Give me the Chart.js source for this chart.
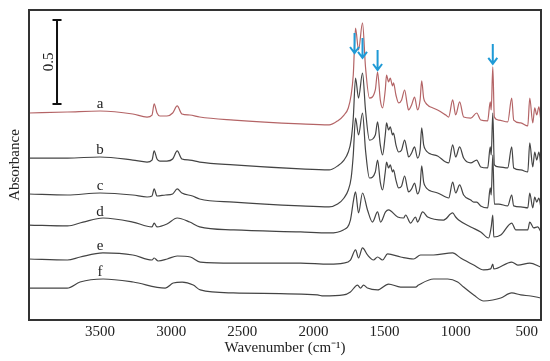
<!DOCTYPE html>
<html><head><meta charset="utf-8">
<script src="https://cdn.jsdelivr.net/npm/chart.js@4.4.1/dist/chart.umd.min.js"></script>
<style>html,body{margin:0;padding:0;background:#fff}</style>
</head><body>
<canvas id="c" width="550" height="361"></canvas>
<script>
// ---- data ----
const wavenumberTicks = [3500, 3000, 2500, 2000, 1500, 1000, 500];
const seriesNames = ['a', 'b', 'c', 'd', 'e', 'f'];
const arrowPeaks = [1711, 1655, 1549, 739];           // cm-1 marked by arrows
const arrowTipAbs = [1.589, 1.560, 1.488, 1.524];     // arrow tips
const scaleBar = {wn: 3803, from: 1.286, to: 1.786, label: '0.5'};

const traceA = [[4000,1.232],[3730,1.238],[3500,1.244],[3270,1.226],[3170,1.208],[3135,1.220],[3120,1.286],[3100,1.232],[3080,1.214],[3030,1.214],[2990,1.232],[2958,1.274],[2925,1.226],[2870,1.220],[2800,1.208],[2560,1.190],[2090,1.167],[1890,1.161],[1830,1.185],[1785,1.220],[1755,1.262],[1735,1.339],[1720,1.458],[1704,1.738],[1683,1.607],[1655,1.768],[1634,1.506],[1606,1.321],[1565,1.369],[1549,1.476],[1530,1.310],[1514,1.262],[1495,1.369],[1486,1.458],[1472,1.417],[1460,1.440],[1444,1.393],[1437,1.411],[1420,1.339],[1401,1.292],[1380,1.310],[1359,1.369],[1340,1.280],[1331,1.250],[1310,1.280],[1289,1.327],[1268,1.250],[1250,1.310],[1239,1.423],[1225,1.321],[1211,1.292],[1190,1.274],[1176,1.268],[1127,1.250],[1070,1.220],[1049,1.208],[1021,1.310],[1000,1.220],[972,1.298],[944,1.208],[894,1.202],[852,1.232],[824,1.190],[775,1.185],[757,1.298],[750,1.250],[739,1.506],[728,1.208],[697,1.190],[634,1.179],[606,1.321],[592,1.190],[542,1.173],[493,1.155],[479,1.321],[458,1.173],[444,1.262],[430,1.220],[415,1.268],[400,1.179]];

const traceB = [[4000,0.964],[3730,0.964],[3500,0.970],[3270,0.952],[3170,0.940],[3135,0.952],[3120,1.006],[3100,0.958],[3080,0.946],[3030,0.946],[2990,0.958],[2958,1.006],[2925,0.958],[2870,0.952],[2800,0.940],[2560,0.923],[2090,0.899],[1890,0.893],[1830,0.917],[1785,0.952],[1755,1.000],[1735,1.071],[1720,1.202],[1704,1.440],[1683,1.321],[1655,1.470],[1634,1.250],[1606,1.071],[1565,1.101],[1549,1.179],[1530,1.042],[1514,0.982],[1495,1.101],[1486,1.173],[1472,1.131],[1460,1.149],[1444,1.101],[1437,1.113],[1420,1.042],[1401,1.000],[1380,1.012],[1359,1.071],[1340,1.000],[1331,0.970],[1310,0.994],[1289,1.030],[1268,0.964],[1250,1.012],[1239,1.143],[1225,1.042],[1211,1.012],[1190,0.994],[1176,0.988],[1127,0.976],[1070,0.940],[1049,0.935],[1021,1.042],[1000,0.970],[972,1.030],[944,0.964],[894,0.935],[852,0.952],[824,0.911],[775,0.905],[757,1.030],[750,0.982],[739,1.232],[728,0.923],[697,0.911],[634,0.905],[606,1.030],[592,0.905],[542,0.893],[493,0.881],[479,1.054],[458,0.911],[444,1.000],[430,0.952],[415,1.000],[400,0.911]];

const traceC = [[4000,0.750],[3730,0.744],[3500,0.756],[3270,0.744],[3170,0.732],[3135,0.738],[3120,0.780],[3100,0.738],[3040,0.744],[2990,0.750],[2958,0.780],[2925,0.756],[2850,0.738],[2800,0.720],[2560,0.702],[2090,0.679],[1890,0.673],[1830,0.690],[1785,0.726],[1755,0.774],[1735,0.845],[1720,0.982],[1704,1.202],[1683,1.101],[1655,1.232],[1634,1.012],[1606,0.845],[1565,0.881],[1549,0.952],[1530,0.821],[1514,0.774],[1495,0.881],[1486,0.940],[1472,0.905],[1460,0.923],[1444,0.881],[1437,0.893],[1420,0.833],[1401,0.786],[1380,0.798],[1359,0.857],[1340,0.786],[1331,0.762],[1310,0.780],[1289,0.815],[1268,0.750],[1250,0.798],[1239,0.917],[1225,0.821],[1211,0.792],[1190,0.774],[1176,0.768],[1127,0.756],[1070,0.732],[1049,0.726],[1021,0.821],[1000,0.756],[972,0.804],[944,0.744],[894,0.714],[873,0.702],[852,0.702],[824,0.679],[775,0.667],[757,0.786],[750,0.744],[739,0.982],[728,0.690],[697,0.690],[634,0.679],[606,0.744],[592,0.679],[542,0.673],[493,0.667],[479,0.756],[458,0.667],[444,0.732],[430,0.702],[415,0.726],[400,0.667]];

const traceD = [[4000,0.565],[3730,0.560],[3620,0.583],[3480,0.607],[3270,0.583],[3135,0.554],[3120,0.577],[3100,0.554],[3030,0.571],[2958,0.607],[2870,0.583],[2800,0.554],[2560,0.536],[2090,0.524],[1890,0.518],[1790,0.536],[1740,0.595],[1718,0.714],[1704,0.762],[1683,0.637],[1655,0.756],[1620,0.655],[1585,0.583],[1549,0.643],[1528,0.583],[1493,0.643],[1472,0.655],[1408,0.613],[1366,0.607],[1352,0.625],[1317,0.577],[1282,0.613],[1268,0.583],[1232,0.643],[1197,0.613],[1085,0.595],[1021,0.637],[1000,0.613],[979,0.595],[894,0.554],[824,0.524],[768,0.488],[750,0.554],[739,0.625],[732,0.494],[683,0.506],[606,0.577],[577,0.536],[493,0.536],[479,0.583],[451,0.548],[423,0.554],[400,0.524]];

const traceE = [[4000,0.363],[3730,0.357],[3640,0.375],[3480,0.399],[3270,0.387],[3135,0.357],[3120,0.369],[3092,0.351],[3028,0.363],[2958,0.381],[2866,0.375],[2796,0.345],[2560,0.339],[2090,0.339],[1890,0.333],[1789,0.339],[1740,0.357],[1704,0.417],[1683,0.369],[1655,0.429],[1620,0.387],[1578,0.357],[1549,0.375],[1514,0.357],[1479,0.393],[1387,0.375],[1296,0.363],[1247,0.387],[1155,0.387],[1021,0.399],[965,0.369],[873,0.327],[803,0.298],[754,0.304],[739,0.333],[732,0.304],[606,0.345],[563,0.327],[479,0.339],[400,0.315]];

const traceF = [[4000,0.190],[3732,0.190],[3641,0.226],[3479,0.244],[3268,0.226],[3042,0.190],[2986,0.220],[2923,0.226],[2845,0.208],[2796,0.179],[2563,0.161],[1972,0.149],[1930,0.143],[1789,0.149],[1740,0.167],[1690,0.208],[1669,0.190],[1648,0.208],[1620,0.190],[1549,0.179],[1472,0.214],[1387,0.196],[1282,0.196],[1261,0.208],[1155,0.244],[1056,0.244],[986,0.226],[944,0.196],[873,0.149],[803,0.113],[739,0.119],[683,0.131],[606,0.161],[542,0.149],[472,0.143],[400,0.131]];

const traces = [traceA, traceB, traceC, traceD, traceE, traceF];

// ---- styles ----
const SERIF = "'Liberation Serif','Times New Roman',serif";
const lineColors = ['rgb(180,100,102)', '#444', '#444', '#444', '#444', '#444'];
const ARROW_COLOR = '#1f9ad6';

const datasets = traces.map((t, i) => ({
  label: seriesNames[i],
  data: t.map(p => ({x: p[0], y: p[1]})),
  showLine: true, borderColor: lineColors[i], borderWidth: 1.2,
  pointRadius: 0, cubicInterpolationMode: 'monotone', fill: false
}));

function valueAt(trace, wn) {
  for (let i = 0; i < trace.length - 1; i++) {
    const a = trace[i], b = trace[i + 1];
    if ((wn <= a[0] && wn >= b[0])) {
      const f = (a[0] - wn) / (a[0] - b[0]);
      return a[1] + f * (b[1] - a[1]);
    }
  }
  return trace[0][1];
}

const annotations = {
  id: 'annotations',
  afterDatasetsDraw(chart) {
    const {ctx, chartArea: ca, scales: {x, y}} = chart;
    ctx.save();
    // frame
    ctx.strokeStyle = '#333'; ctx.lineWidth = 2;
    ctx.strokeRect(ca.left, ca.top, ca.right - ca.left, ca.bottom - ca.top);
    // series labels
    ctx.fillStyle = '#222'; ctx.font = '15px ' + SERIF;
    ctx.textAlign = 'center'; ctx.textBaseline = 'alphabetic';
    const lx = x.getPixelForValue(3500);
    traces.forEach((t, i) => {
      ctx.fillText(seriesNames[i], lx, y.getPixelForValue(valueAt(t, 3500)) - 3);
    });
    // scale bar
    const sx = x.getPixelForValue(scaleBar.wn);
    const sy1 = y.getPixelForValue(scaleBar.to), sy2 = y.getPixelForValue(scaleBar.from);
    ctx.strokeStyle = '#111'; ctx.lineWidth = 2;
    ctx.beginPath();
    ctx.moveTo(sx, sy1); ctx.lineTo(sx, sy2);
    ctx.moveTo(sx - 4.5, sy1); ctx.lineTo(sx + 4.5, sy1);
    ctx.moveTo(sx - 4.5, sy2); ctx.lineTo(sx + 4.5, sy2);
    ctx.stroke();
    ctx.save();
    ctx.translate(sx - 8, (sy1 + sy2) / 2);
    ctx.rotate(-Math.PI / 2);
    ctx.textAlign = 'center'; ctx.textBaseline = 'middle';
    ctx.fillText(scaleBar.label, 0, 0);
    ctx.restore();
    // arrows
    ctx.strokeStyle = ARROW_COLOR; ctx.lineWidth = 2;
    arrowPeaks.forEach((wn, i) => {
      const ax = x.getPixelForValue(wn), ay = y.getPixelForValue(arrowTipAbs[i]);
      ctx.beginPath();
      ctx.moveTo(ax, ay - 20); ctx.lineTo(ax, ay - 1);
      ctx.moveTo(ax - 4.5, ay - 6); ctx.lineTo(ax, ay); ctx.lineTo(ax + 4.5, ay - 6);
      ctx.stroke();
    });
    ctx.restore();
  }
};

new Chart(document.getElementById('c'), {
  type: 'scatter',
  data: {datasets},
  plugins: [annotations],
  options: {
    responsive: false, animation: false, devicePixelRatio: 1,
    layout: {padding: {top: 10, right: 9, left: 0, bottom: 0}},
    plugins: {legend: {display: false}, tooltip: {enabled: false}},
    scales: {
      x: {
        type: 'linear', reverse: true, min: 400, max: 4000,
        afterBuildTicks: s => { s.ticks = wavenumberTicks.map(v => ({value: v})); },
        afterFit: s => { s.height = 41; },
        grid: {display: false, drawTicks: false},
        border: {display: false},
        ticks: {color: '#222', font: {family: SERIF, size: 15}, padding: 3, maxRotation: 0, autoSkip: false,
                callback: v => String(v)},
        title: {display: true, text: 'Wavenumber (cm\u207B\u00B9)', color: '#222', font: {family: SERIF, size: 15}, padding: {top: 0, bottom: 4}}
      },
      y: {
        type: 'linear', min: 0, max: 1.845,
        afterFit: s => { s.width = 29; },
        grid: {display: false, drawTicks: false},
        border: {display: false},
        ticks: {display: false},
        title: {display: true, text: 'Absorbance', color: '#222', font: {family: SERIF, size: 15}, padding: {top: 6, bottom: 0}}
      }
    }
  }
});
</script>
</body></html>
